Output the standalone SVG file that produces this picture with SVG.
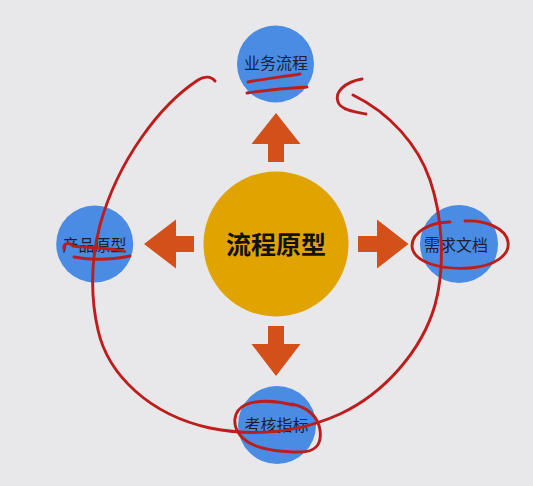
<svg xmlns="http://www.w3.org/2000/svg" width="533" height="486" viewBox="0 0 533 486">
<style>
.node{fill:#4a8ce3}
.lbl{font-family:"Noto Sans CJK SC","Noto Sans",sans-serif;font-size:16px;fill:#1a1f33;text-anchor:middle}
.core{fill:#e0a300}
.corelbl{font-family:"Noto Sans CJK SC","Noto Sans",sans-serif;font-size:25px;font-weight:bold;fill:#111;text-anchor:middle}
.arrow{fill:#d35019}
.ink{fill:none;stroke:#bd1e1c;stroke-width:2.9;stroke-linecap:round;stroke-linejoin:round}
</style>
<rect width="533" height="486" fill="#e8e7ea"/>
<g id="connectors">
<polygon class="arrow" points="276,113 300.5,144 284,144 284,162 268,162 268,144 251.5,144"/>
<polygon class="arrow" points="144,244 176,219.5 176,236 194,236 194,252 176,252 176,268.5"/>
<polygon class="arrow" points="408.5,244 377,219.5 377,236 358,236 358,252 377,252 377,268.5"/>
<polygon class="arrow" points="276,376 300.5,344 284,344 284,326 268,326 268,344 251.5,344"/>
</g>
<g id="center">
<circle class="core" cx="276" cy="244" r="72.5"/>
<text class="corelbl" x="276" y="254">流程原型</text>
</g>
<g id="node-top">
<circle class="node" cx="275.5" cy="64" r="38.5"/>
<text class="lbl" x="276" y="69">业务流程</text>
</g>
<g id="node-left">
<circle class="node" cx="94.7" cy="244" r="38.5"/>
<text class="lbl" x="94.5" y="250.5">产品原型</text>
</g>
<g id="node-right">
<circle class="node" cx="459" cy="244" r="39"/>
<text class="lbl" x="456" y="250.5">需求文档</text>
</g>
<g id="node-bottom">
<circle class="node" cx="277" cy="425" r="39"/>
<text class="lbl" x="276.5" y="430.5">考核指标</text>
</g>
<g id="annotations">
<path class="ink" d="M215,81 C211,76 204,76 198,80 C160,105 118,160 100,225 C90,262 91,300 98,330 C108,375 150,415 210,428 C255,437 300,432 340,414 C385,393 422,350 435,305 C446,265 442,215 430,180 C418,145 390,113 353,95"/>
<path class="ink" d="M362,79 C345,82 334,92 338,102 C341,110 355,112 366,114"/>
<path class="ink" d="M248,82 C262,79 282,77 300,74"/>
<path class="ink" d="M247,93 C267,90 290,88 307,87"/>
<path class="ink" d="M64,249 C62,243 70,242 73,246 C90,248 110,248 124,251"/>
<path class="ink" d="M74,257 C95,261 115,259 130,256"/>
<path class="ink" d="M450,222 C430,222 412,232 412,246 C413,262 440,270 470,268 C495,266 510,255 508,242 C506,228 485,220 465,221"/>
<path class="ink" d="M293,405 C275,400 255,400 245,405 C233,411 232,425 240,435 C250,448 275,452 300,452 C315,452 322,445 320,430 C318,418 310,408 292,404"/>
</g>
</svg>
